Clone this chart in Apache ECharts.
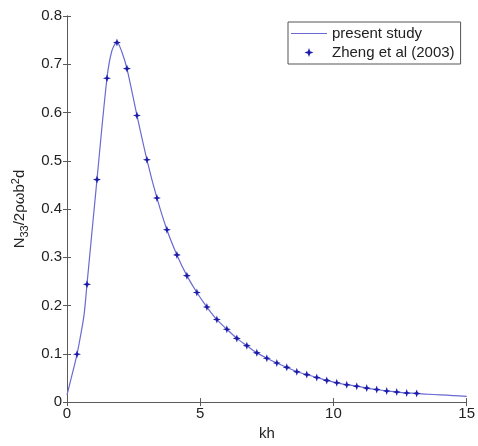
<!DOCTYPE html>
<html>
<head>
<meta charset="utf-8">
<script src="https://cdn.jsdelivr.net/npm/echarts@6/dist/echarts.min.js"></script>
<style>
html,body{margin:0;padding:0;background:#fff;}
#c{width:478px;height:446px;}
</style>
</head>
<body>
<div id="c"></div>
<script>
// Present study (continuous curve)
const lineKh   = [0, 0.15, 0.375, 0.55, 0.65, 0.75, 1.125, 1.5, 1.68, 1.875, 2.05, 2.25, 2.625, 3.0, 3.375, 3.75, 4.125, 4.5, 4.875, 5.25, 5.625, 6.0, 6.375, 6.75, 7.125, 7.5, 7.875, 8.25, 8.625, 9.0, 9.375, 9.75, 10.125, 10.5, 10.875, 11.25, 11.625, 12.0, 12.375, 12.75, 13.125, 13.5, 14.0, 14.5, 15.0];
const lineVals = [0.015, 0.048, 0.099, 0.150, 0.185, 0.244, 0.461, 0.671, 0.727, 0.746, 0.727, 0.691, 0.594, 0.502, 0.423, 0.357, 0.305, 0.262, 0.227, 0.197, 0.171, 0.151, 0.132, 0.117, 0.102, 0.091, 0.081, 0.072, 0.063, 0.057, 0.051, 0.045, 0.040, 0.036, 0.033, 0.029, 0.026, 0.023, 0.021, 0.019, 0.018, 0.0165, 0.015, 0.0135, 0.012];
// Zheng et al (2003) markers
const markerKh   = [0.375, 0.75, 1.125, 1.5, 1.875, 2.25, 2.625, 3.0, 3.375, 3.75, 4.125, 4.5, 4.875, 5.25, 5.625, 6.0, 6.375, 6.75, 7.125, 7.5, 7.875, 8.25, 8.625, 9.0, 9.375, 9.75, 10.125, 10.5, 10.875, 11.25, 11.625, 12.0, 12.375, 12.75, 13.125];
const markerVals = [0.099, 0.244, 0.461, 0.671, 0.745, 0.691, 0.594, 0.502, 0.423, 0.357, 0.305, 0.262, 0.227, 0.197, 0.171, 0.151, 0.132, 0.117, 0.102, 0.091, 0.081, 0.072, 0.063, 0.057, 0.051, 0.045, 0.040, 0.036, 0.033, 0.029, 0.026, 0.023, 0.021, 0.019, 0.018];
const xTickLabels = ['0', '5', '10', '15'];
const yTickLabels = ['0', '0.1', '0.2', '0.3', '0.4', '0.5', '0.6', '0.7', '0.8'];
const seriesNames = ['present study', 'Zheng et al (2003)'];

const FONT = 'Liberation Sans, Arial, sans-serif';
const STAR = 'path://M0,-5 L1.3,-1.3 L5,0 L1.3,1.3 L0,5 L-1.3,1.3 L-5,0 L-1.3,-1.3 Z';
const axisCol = '#5a5a5a';

const chart = echarts.init(document.getElementById('c'), null, {renderer: 'canvas'});
const lineData = lineKh.map((k, i) => [k, lineVals[i]]);
const markData = markerKh.map((k, i) => [k, markerVals[i]]);

const boxAxis = {
  axisLine: {show: true, lineStyle: {color: axisCol, width: 1}},
  axisTick: {show: true, inside: true, length: 4, lineStyle: {color: axisCol}},
  splitLine: {show: false},
  axisLabel: {show: false}
};

chart.setOption({
  animation: false,
  backgroundColor: '#fff',
  grid: {left: 67, right: 8, top: 16, bottom: 39, containLabel: false},
  xAxis: [
    Object.assign({}, boxAxis, {
      type: 'value', min: 0, max: 15, interval: 5, position: 'bottom',
      axisLabel: {show: true, color: '#222', fontSize: 15, fontFamily: FONT, margin: 4,
        formatter: v => xTickLabels[Math.round(v / 5)]},
      name: 'kh', nameLocation: 'middle', nameGap: 20,
      nameTextStyle: {color: '#222', fontSize: 15, fontFamily: FONT}
    }),
    Object.assign({}, boxAxis, {type: 'value', min: 0, max: 15, interval: 5, position: 'top'})
  ],
  yAxis: [
    Object.assign({}, boxAxis, {
      type: 'value', min: 0, max: 0.8, interval: 0.1, position: 'left',
      axisLabel: {show: true, color: '#222', fontSize: 15, fontFamily: FONT, margin: 5,
        formatter: v => yTickLabels[Math.round(v * 10)]},
      name: '{n|N}{sub|33}{n|/2ρωb}{sup|2}{n|d}', nameLocation: 'middle', nameGap: 37,
      nameRotate: 90,
      nameTextStyle: {
        color: '#222', fontSize: 15, fontFamily: FONT,
        rich: {
          n: {fontSize: 15, fontFamily: FONT, color: '#222'},
          sub: {fontSize: 11, fontFamily: FONT, color: '#222', padding: [10, 0, 0, 0]},
          sup: {fontSize: 11, fontFamily: FONT, color: '#222', padding: [0, 0, 8, 0]}
        }
      }
    }),
    Object.assign({}, boxAxis, {type: 'value', min: 0, max: 0.8, interval: 0.1, position: 'right'})
  ],
  legend: {
    show: true, orient: 'vertical', left: 288, top: 22,
    backgroundColor: '#fff', borderColor: '#555', borderWidth: 1, borderRadius: 0,
    padding: [4, 6, 4, 3], itemGap: 4, itemWidth: 36, itemHeight: 9,
    textStyle: {color: '#222', fontSize: 15, fontFamily: FONT},
    data: [
      {name: seriesNames[0], icon: 'path://M0,0 L36,0 L36,1.2 L0,1.2 Z', itemStyle: {color: '#6a6ad2'}},
      {name: seriesNames[1], icon: STAR, itemStyle: {color: '#1c1ca8'}}
    ]
  },
  series: [
    {
      name: seriesNames[0], type: 'line', data: lineData, xAxisIndex: 0, yAxisIndex: 0,
      showSymbol: false, symbol: 'none', smooth: 0.3,
      lineStyle: {color: '#6a6ad2', width: 1.2}, itemStyle: {color: '#6a6ad2'}, z: 2
    },
    {
      name: seriesNames[1], type: 'scatter', data: markData, xAxisIndex: 0, yAxisIndex: 0,
      symbol: STAR, symbolSize: 8,
      itemStyle: {color: '#1c1ca8', opacity: 1}, z: 3
    }
  ]
});
</script>
</body>
</html>
